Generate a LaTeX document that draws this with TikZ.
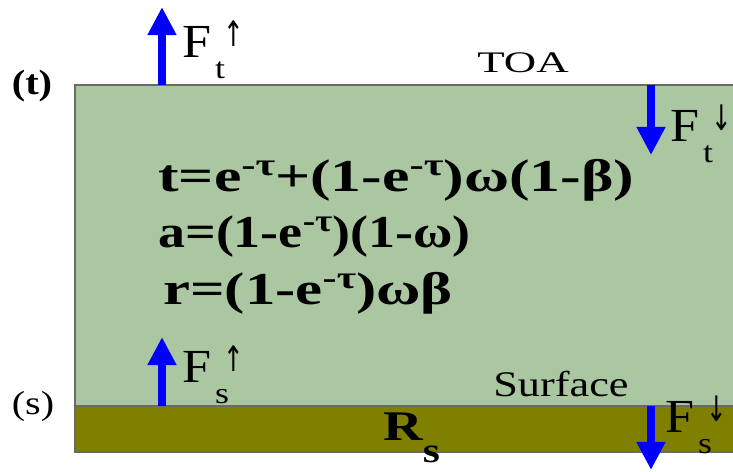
\documentclass[tikz,border=0pt]{standalone}
\usepackage{fontspec}
\setmainfont{Liberation Serif}
\newfontfamily\arrowfont{DejaVu Sans}
\usetikzlibrary{arrows.meta,positioning}
\definecolor{layergreen}{RGB}{171,199,161}
\definecolor{groundolive}{RGB}{128,128,0}
\definecolor{fluxblue}{RGB}{0,0,255}
\definecolor{edgegray}{RGB}{105,105,105}
% stretched text, the reference is wider than plain Times
\newcommand{\wide}[2]{\scalebox{#1}[1]{#2}}
\newcommand{\eqsup}[1]{\raisebox{0.36em}{\fontsize{18}{18}\selectfont #1}}
\newcommand{\fluxlbl}[2]{%
  \makebox[18.7pt][l]{\wide{1.1}{F}}%
  \makebox[4.5pt][l]{\raisebox{-11.5pt}{\fontsize{17}{17}\selectfont\wide{1.2}{#1}}}%
  \raisebox{6.5pt}{\arrowfont\fontsize{20}{20}\selectfont\wide{0.7}{#2}}}

\begin{document}
\begin{tikzpicture}[x=0.02cm, y=-0.02cm,
    fluxarrow/.style={fluxblue, line width=4pt, -{Triangle[length=16pt,width=15.5pt]}},
    fluxtext/.style={anchor=base west, inner sep=0pt, font=\fontsize{27}{27}\selectfont},
    eqtext/.style={anchor=base west, inner sep=0pt, font=\fontsize{26}{26}\selectfont\bfseries}]
    \useasboundingbox (0,0) rectangle (733,472);
    % atmosphere layer and surface
    \draw[edgegray, line width=0.7pt, fill=layergreen] (75,85) rectangle (740,406);
    \draw[edgegray, line width=0.7pt, fill=groundolive] (75,406) rectangle (740,452);

    \node[font=\fontsize{20}{20}\selectfont\bfseries] (tlev) at (32,86) {\wide{1.15}{(t)}};
    \node[font=\fontsize{19}{19}\selectfont] (slev) at (33,406) {\wide{1.2}{(s)}};
    \node[anchor=base west, inner sep=0pt, font=\fontsize{17}{17}\selectfont] (toa) at (477,73) {\wide{1.5}{TOA}};
    \node[anchor=base west, inner sep=0pt, font=\fontsize{20.5}{20.5}\selectfont] (surf) at (493,397) {\wide{1.23}{Surface}};

    \node[eqtext] (eqt) at (158,192) {\wide{1.35}{t=e\eqsup{-τ}+(1-e\eqsup{-τ})ω(1-β)}};
    \node[eqtext] (eqa) at (158,248) {\wide{1.18}{a=(1-e\eqsup{-τ})(1-ω)}};
    \node[eqtext] (eqr) at (163,305) {\wide{1.33}{r=(1-e\eqsup{-τ})ωβ}};

    \node[anchor=base west, inner sep=0pt, font=\fontsize{24}{24}\selectfont\bfseries] (rs) at (383,440)
         {\wide{1.3}{R}\raisebox{-13pt}{\fontsize{20}{20}\selectfont\wide{1.25}{s}}};

    % fluxes
    \coordinate (ftupbase) at (162,85);   \coordinate (ftuptip) at (162,7);
    \coordinate (ftdnbase) at (651,85);   \coordinate (ftdntip) at (651,155);
    \coordinate (fsupbase) at (162,406);  \coordinate (fsuptip) at (162,337);
    \coordinate (fsdnbase) at (651,406);  \coordinate (fsdntip) at (651,470);
    \draw[fluxarrow] (ftupbase) -- (ftuptip);
    \draw[fluxarrow] (ftdnbase) -- (ftdntip);
    \draw[fluxarrow] (fsupbase) -- (fsuptip);
    \draw[fluxarrow] (fsdnbase) -- (fsdntip);
    \node[fluxtext] (ftup) at (182,58) {\fluxlbl{t}{↑}};
    \node[fluxtext] (ftdn) at (670,142) {\fluxlbl{t}{↓}};
    \node[fluxtext] (fsup) at (182,383) {\fluxlbl{s}{↑}};
    \node[fluxtext] (fsdn) at (665,433) {\fluxlbl{s}{↓}};
\end{tikzpicture}
\end{document}
